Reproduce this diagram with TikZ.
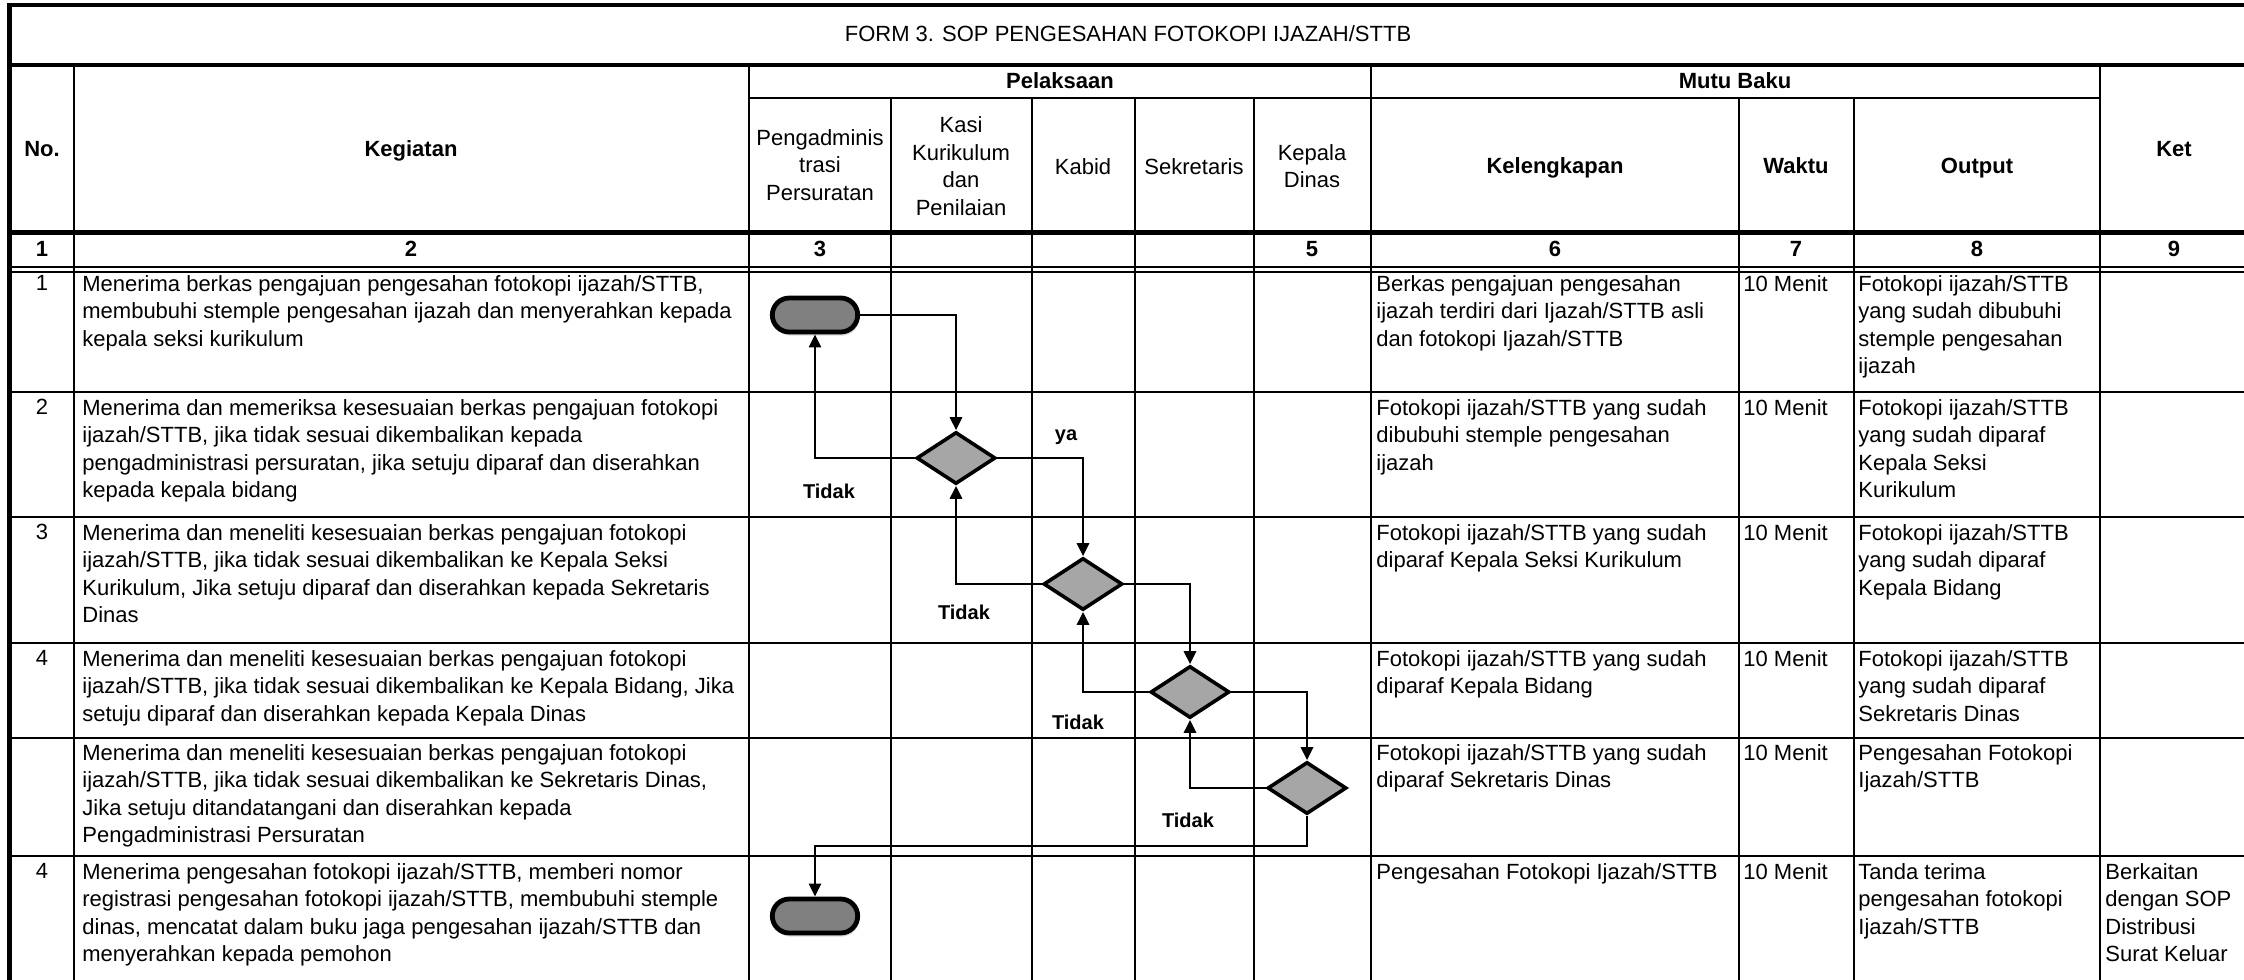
\documentclass[tikz,border=0pt]{standalone}
\usepackage{fontspec}
\setmainfont{Liberation Sans}
\usepackage{tikz}
\usetikzlibrary{shapes.geometric,arrows.meta,shadows}
\newcommand{\cellfont}{\fontsize{11}{13.75}\selectfont}
\tikzset{thinline/.style={line width=1.45pt}}
\tikzset{txt/.style={anchor=north west,inner sep=0pt,align=left,font=\cellfont}}
\tikzset{num/.style={anchor=north,inner sep=0pt,font=\cellfont}}
\tikzset{hd/.style={inner sep=0pt,text height=8pt,text depth=2pt,font=\cellfont\bfseries}}
\tikzset{lane/.style={inner sep=0pt,align=center,font=\cellfont}}
\tikzset{lbl/.style={inner sep=0pt,font=\fontsize{10}{12}\selectfont\bfseries}}
\tikzset{term/.style={draw,line width=2.4pt,fill=black!50,rounded corners=8.5pt,minimum width=42.7pt,minimum height=17pt,inner sep=0pt,drop shadow={shadow xshift=0.6pt,shadow yshift=-1.8pt,opacity=0.3}}}
\tikzset{decide/.style={draw,diamond,line width=1.8pt,fill=black!35,minimum width=39.5pt,minimum height=26pt,inner sep=0pt}}
\tikzset{flow/.style={line width=1.4pt,-{Triangle[length=6.5pt,width=6pt]}}}

\begin{document}
\begin{tikzpicture}[x=0.5pt,y=-0.5pt]
\useasboundingbox (0,0) rectangle (2244,980);
\clip (0,0) rectangle (2244,980);

\draw[line width=2.2pt] (9.5,990) -- (9.5,5) -- (2247,5) -- (2247,990);
\draw[line width=2.1pt] (9.5,65) -- (2247,65);
\draw[thinline] (749,98) -- (2100,98);
\draw[line width=2.5pt] (9.5,232) -- (2247,232);
\draw[line width=1pt] (9.5,267) -- (2247,267);
\draw[line width=1pt] (9.5,272) -- (2247,272);
\foreach \y in {392,517,643,738,856}
  \draw[thinline] (9.5,\y) -- (2247,\y);
\foreach \x in {74,749,1371,2100}
  \draw[thinline] (\x,65) -- (\x,990);
\foreach \x in {891,1032,1135,1254,1739,1854}
  \draw[thinline] (\x,98) -- (\x,990);

\node[lane] (title) at (1128,34) {FORM 3. SOP PENGESAHAN FOTOKOPI IJAZAH/STTB};
\node[hd] (hno) at (42,150) {No.};
\node[hd] (hkeg) at (411,150) {Kegiatan};
\node[hd] (hpel) at (1060,82) {Pelaksaan};
\node[hd] (hmutu) at (1735,82) {Mutu Baku};
\node[hd] (hket) at (2174,150) {Ket};
\node[lane] (hadm) at (820,165) {Pengadminis\\trasi\\Persuratan};
\node[lane] (hkasi) at (961,166) {Kasi\\Kurikulum\\dan\\Penilaian};
\node[lane] (hkabid) at (1083,167) {Kabid};
\node[lane] (hsek) at (1194,167) {Sekretaris};
\node[lane] (hkadin) at (1312,166) {Kepala\\Dinas};
\node[hd] (hkel) at (1555,167) {Kelengkapan};
\node[hd] (hwak) at (1796,167) {Waktu};
\node[hd] (hout) at (1977,167) {Output};

\foreach \x/\n in {42/1,411/2,820/3,1312/5,1555/6,1796/7,1977/8,2174/9}
  \node[hd] (col\n) at (\x,250) {\n};

\node[num] (no1) at (42,275) {1};
\node[num] (no2) at (42,399) {2};
\node[num] (no3) at (42,524) {3};
\node[num] (no4) at (42,650) {4};
\node[num] (no6) at (42,863) {4};

\node[txt] (keg1) at (82,275) {Menerima berkas pengajuan pengesahan fotokopi ijazah/STTB,\\membubuhi stemple pengesahan ijazah dan menyerahkan kepada\\kepala seksi kurikulum};
\node[txt] (keg2) at (82,399) {Menerima dan memeriksa kesesuaian berkas pengajuan fotokopi\\ijazah/STTB, jika tidak sesuai dikembalikan kepada\\pengadministrasi persuratan, jika setuju diparaf dan diserahkan\\kepada kepala bidang};
\node[txt] (keg3) at (82,524) {Menerima dan meneliti kesesuaian berkas pengajuan fotokopi\\ijazah/STTB, jika tidak sesuai dikembalikan ke Kepala Seksi\\Kurikulum, Jika setuju diparaf dan diserahkan kepada Sekretaris\\Dinas};
\node[txt] (keg4) at (82,650) {Menerima dan meneliti kesesuaian berkas pengajuan fotokopi\\ijazah/STTB, jika tidak sesuai dikembalikan ke Kepala Bidang, Jika\\setuju diparaf dan diserahkan kepada Kepala Dinas};
\node[txt] (keg5) at (82,744) {Menerima dan meneliti kesesuaian berkas pengajuan fotokopi\\ijazah/STTB, jika tidak sesuai dikembalikan ke Sekretaris Dinas,\\Jika setuju ditandatangani dan diserahkan kepada\\Pengadministrasi Persuratan};
\node[txt] (keg6) at (82,863) {Menerima pengesahan fotokopi ijazah/STTB, memberi nomor\\registrasi pengesahan fotokopi ijazah/STTB, membubuhi stemple\\dinas, mencatat dalam buku jaga pengesahan ijazah/STTB dan\\menyerahkan kepada pemohon};

\node[txt] (kel1) at (1376,275) {Berkas pengajuan pengesahan\\ijazah terdiri dari Ijazah/STTB asli\\dan fotokopi Ijazah/STTB};
\node[txt] (kel2) at (1376,399) {Fotokopi ijazah/STTB yang sudah\\dibubuhi stemple pengesahan\\ijazah};
\node[txt] (kel3) at (1376,524) {Fotokopi ijazah/STTB yang sudah\\diparaf Kepala Seksi Kurikulum};
\node[txt] (kel4) at (1376,650) {Fotokopi ijazah/STTB yang sudah\\diparaf Kepala Bidang};
\node[txt] (kel5) at (1376,744) {Fotokopi ijazah/STTB yang sudah\\diparaf Sekretaris Dinas};
\node[txt] (kel6) at (1376,863) {Pengesahan Fotokopi Ijazah/STTB};

\foreach \r/\y in {1/275,2/399,3/524,4/650,5/744,6/863}
  \node[txt] (wak\r) at (1743,\y) {10 Menit};

\node[txt] (out1) at (1858,275) {Fotokopi ijazah/STTB\\yang sudah dibubuhi\\stemple pengesahan\\ijazah};
\node[txt] (out2) at (1858,399) {Fotokopi ijazah/STTB\\yang sudah diparaf\\Kepala Seksi\\Kurikulum};
\node[txt] (out3) at (1858,524) {Fotokopi ijazah/STTB\\yang sudah diparaf\\Kepala Bidang};
\node[txt] (out4) at (1858,650) {Fotokopi ijazah/STTB\\yang sudah diparaf\\Sekretaris Dinas};
\node[txt] (out5) at (1858,744) {Pengesahan Fotokopi\\Ijazah/STTB};
\node[txt] (out6) at (1858,863) {Tanda terima\\pengesahan fotokopi\\Ijazah/STTB};

\node[txt] (ket6) at (2105,863) {Berkaitan\\dengan SOP\\Distribusi\\Surat Keluar};

\node[term] (start) at (815,315) {};
\node[decide] (d1) at (956,458) {};
\node[decide] (d2) at (1083,584) {};
\node[decide] (d3) at (1190,692) {};
\node[decide] (d4) at (1307,788) {};
\node[term] (finish) at (815,916) {};
\coordinate (turn) at (815,846);

\draw[flow] (start.east) -| (d1.north);
\draw[flow] (d1.west) -| (start.south);
\draw[flow] (d1.east) -| (d2.north);
\draw[flow] (d2.west) -| (d1.south);
\draw[flow] (d2.east) -| (d3.north);
\draw[flow] (d3.west) -| (d2.south);
\draw[flow] (d3.east) -| (d4.north);
\draw[flow] (d4.west) -| (d3.south);
\draw[flow] (d4.south) |- (turn) -- (finish.north);

\node[lbl] (ya1) at (1066,437) {ya};
\node[lbl] (tidak1) at (829,491) {Tidak};
\node[lbl] (tidak2) at (964,612) {Tidak};
\node[lbl] (tidak3) at (1078,722) {Tidak};
\node[lbl] (tidak4) at (1188,820) {Tidak};

\end{tikzpicture}
\end{document}
